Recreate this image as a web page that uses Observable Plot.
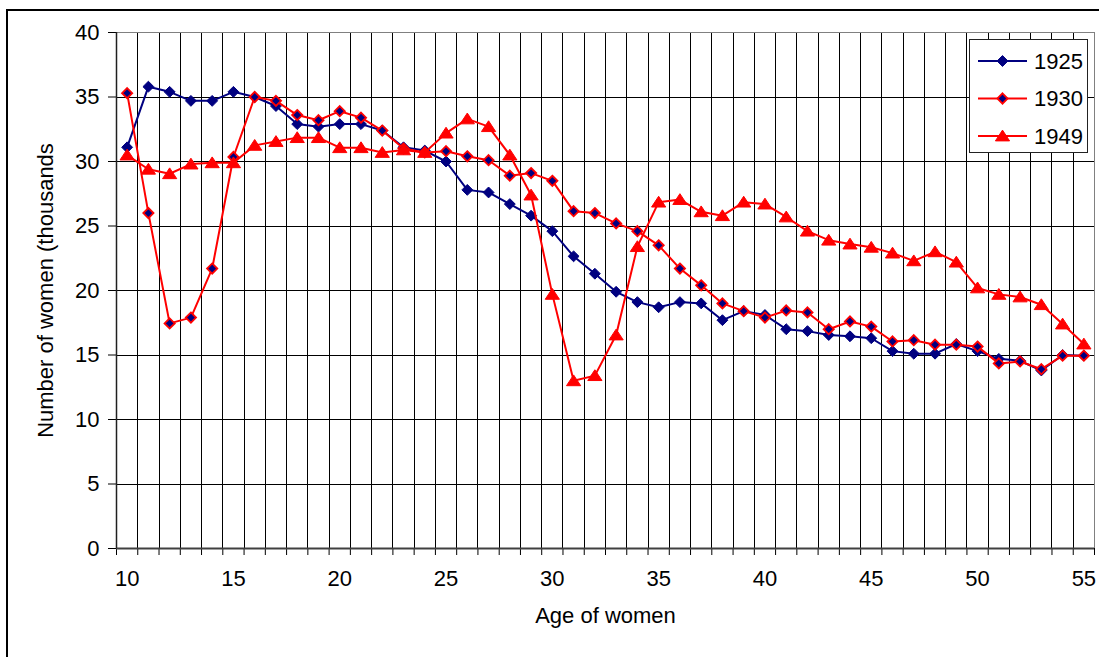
<!DOCTYPE html>
<html><head><meta charset="utf-8">
<script src="https://cdn.jsdelivr.net/npm/d3@7"></script>
<script src="https://cdn.jsdelivr.net/npm/@observablehq/plot@0.6"></script>
<style>
body{margin:0;background:#fff;font-family:"Liberation Sans",Arial,sans-serif;}
#wrap{position:relative;width:1099px;height:657px;overflow:hidden;background:#fff;}
#chart{position:absolute;left:0;top:0;}
#frame{position:absolute;left:6px;top:9px;width:1200px;height:800px;border:2px solid #000;pointer-events:none;}
#legend{position:absolute;left:969px;top:39px;width:117px;height:112px;border:1px solid #222;background:#fff;}
#legend svg{display:block;}
</style></head><body>
<div id="wrap"><div id="chart"></div><div id="legend"></div><div id="frame"></div></div>
<script>
const ages = [10,11,12,13,14,15,16,17,18,19,20,21,22,23,24,25,26,27,28,29,30,31,32,33,34,35,36,37,38,39,40,41,42,43,44,45,46,47,48,49,50,51,52,53,54,55];
const v1925 = [31.1,35.8,35.4,34.7,34.7,35.4,35.0,34.3,32.9,32.7,
               32.9,32.9,32.4,31.1,30.85,30.0,27.8,27.6,26.7,25.8,
               24.6,22.65,21.3,19.9,19.1,18.7,19.1,19.0,17.7,18.4,
               18.1,17.0,16.85,16.55,16.45,16.3,15.3,15.1,15.1,15.85,
               15.3,14.7,14.55,13.8,15.0,14.95];
const v1930 = [35.3,26.0,17.45,17.9,21.7,30.35,35.0,34.7,33.6,33.2,
               33.9,33.4,32.4,31.0,30.7,30.8,30.4,30.1,28.9,29.1,
               28.5,26.15,26.0,25.2,24.6,23.5,21.7,20.4,19.0,18.4,
               17.9,18.45,18.3,17.0,17.6,17.2,16.05,16.15,15.8,15.8,
               15.65,14.35,14.5,13.9,14.95,14.95];
const v1949 = [30.5,29.4,29.05,29.8,29.9,29.9,31.25,31.55,31.85,31.85,
               31.07,31.07,30.7,30.9,30.7,32.2,33.3,32.7,30.5,27.4,
               19.7,13.0,13.4,16.55,23.4,26.85,27.05,26.1,25.8,26.85,
               26.7,25.7,24.6,23.9,23.6,23.35,22.9,22.3,23.0,22.2,
               20.2,19.7,19.5,18.9,17.4,15.85];
const seriesNames = ["1925","1930","1949"];
const yTicks = [0,5,10,15,20,25,30,35,40];
const xLabelTicks = [10,15,20,25,30,35,40,45,50,55];
const xTitle = "Age of women";
const yTitle = "Number of women (thousands";

const NAVY = "#000080", RED = "#FF0000";
const FONT = "'Liberation Sans', Arial, sans-serif";
const categoryEdges = ages.map(a => a - 0.5).concat([ages[ages.length - 1] + 0.5]);
const toRows = (vals, name) => ages.map((a, i) => ({age: a, value: vals[i], series: name}));
const d1925 = toRows(v1925, seriesNames[0]);
const d1930 = toRows(v1930, seriesNames[1]);
const d1949 = toRows(v1949, seriesNames[2]);

const triangle = {draw(ctx, size) {
  const r = Math.sqrt(size / Math.PI);
  ctx.moveTo(0, -r * 1.2);
  ctx.lineTo(r * 1.45, r * 1.0);
  ctx.lineTo(-r * 1.45, r * 1.0);
  ctx.closePath();
}};

const chart = Plot.plot({
  width: 1099, height: 657,
  marginLeft: 116, marginRight: 5, marginTop: 32, marginBottom: 109,
  style: {background: "transparent", fontFamily: FONT, fontSize: "22px", color: "#000", overflow: "visible"},
  x: {domain: [categoryEdges[0], categoryEdges[categoryEdges.length - 1]]},
  y: {domain: [0, 40]},
  marks: [
    Plot.ruleY(yTicks.slice(1), {stroke: "#000", strokeWidth: 1, shapeRendering: "crispEdges"}),
    Plot.ruleX(categoryEdges, {stroke: "#000", strokeWidth: 1, shapeRendering: "crispEdges"}),
    Plot.frame({stroke: "#808080", strokeWidth: 1, shapeRendering: "crispEdges"}),
    Plot.axisY({ticks: yTicks, tickSize: 8, tickPadding: 9, label: null}),
    Plot.axisX({ticks: categoryEdges, tickSize: 7, tickFormat: () => "", label: null}),
    Plot.axisX({ticks: xLabelTicks, tickSize: 0, tickPadding: 22, label: null, tickFormat: d => String(d)}),
    Plot.ruleY([0], {stroke: "#404040", strokeWidth: 2}),
    Plot.ruleX([categoryEdges[0]], {stroke: "#202020", strokeWidth: 1.5}),
    Plot.line(d1925, {x: "age", y: "value", stroke: NAVY, strokeWidth: 2}),
    Plot.dot(d1925, {x: "age", y: "value", symbol: "diamond2", r: 4.9, fill: NAVY, stroke: NAVY, strokeWidth: 1}),
    Plot.line(d1930, {x: "age", y: "value", stroke: RED, strokeWidth: 2}),
    Plot.dot(d1930, {x: "age", y: "value", symbol: "diamond2", r: 4.6, fill: NAVY, stroke: RED, strokeWidth: 1.8}),
    Plot.line(d1949, {x: "age", y: "value", stroke: RED, strokeWidth: 2}),
    Plot.dot(d1949, {x: "age", y: "value", symbol: triangle, r: 4.9, fill: RED, stroke: RED, strokeWidth: 1}),
    Plot.text([xTitle], {frameAnchor: "bottom", dy: 74, fill: "#000", fontSize: 22}),
    Plot.text([yTitle], {frameAnchor: "left", textAnchor: "middle", rotate: -90, dx: -71, fill: "#000", fontSize: 22})
  ]
});
document.getElementById("chart").appendChild(chart);

// Legend
const legendItems = [
  {name: seriesNames[0], line: NAVY, sym: d3.symbolDiamond2, fill: NAVY, stroke: NAVY, sw: 1, r: 4.9},
  {name: seriesNames[1], line: RED, sym: d3.symbolDiamond2, fill: NAVY, stroke: RED, sw: 1.8, r: 4.6},
  {name: seriesNames[2], line: RED, sym: triangle, fill: RED, stroke: RED, sw: 1, r: 4.9}
];
const lsvg = d3.select("#legend").append("svg").attr("width", 117).attr("height", 112);
legendItems.forEach((it, i) => {
  const cy = 21 + i * 37.5;
  const g = lsvg.append("g").attr("transform", `translate(0,${cy})`);
  g.append("line").attr("x1", 8).attr("x2", 57).attr("y1", 0).attr("y2", 0).attr("stroke", it.line).attr("stroke-width", 2);
  g.append("path").attr("transform", "translate(32.5,0)")
    .attr("d", d3.symbol(it.sym, Math.PI * it.r * it.r)())
    .attr("fill", it.fill).attr("stroke", it.stroke).attr("stroke-width", it.sw);
  g.append("text").attr("x", 64).attr("y", 0).attr("dy", "0.36em")
    .attr("font-family", FONT).attr("font-size", 22).attr("fill", "#000").text(it.name);
});
</script>
</body></html>
